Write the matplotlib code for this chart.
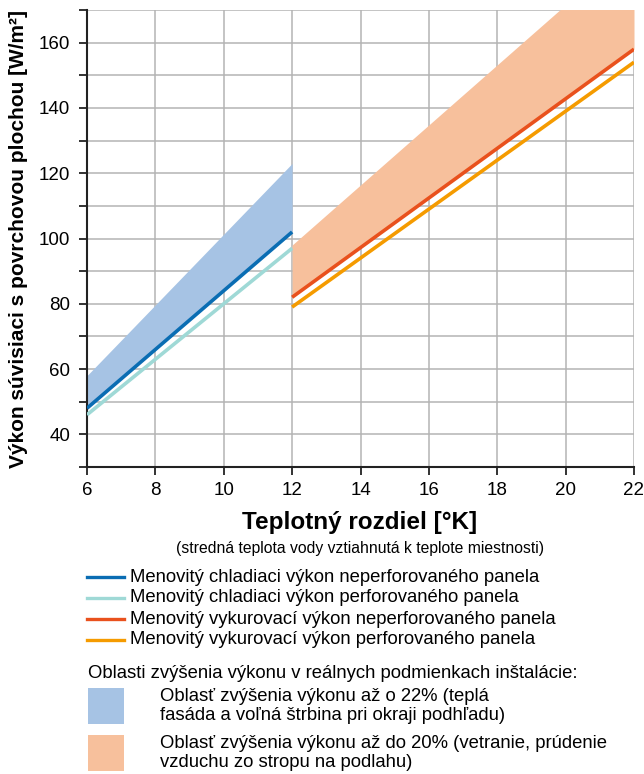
import matplotlib.pyplot as plt
from matplotlib.patches import Rectangle
from matplotlib.lines import Line2D

plt.rcParams['font.family'] = ['Liberation Sans', 'DejaVu Sans']

# data
x_cool = [6, 12]
cool_nonperf = [48, 102]
cool_perf = [46, 97]
cool_upper = [58, 123]

x_heat = [12, 22]
heat_nonperf = [82, 158]
heat_perf = [79, 154]
heat_upper = [98, 190]

legend_lines = [
    ("Menovitý chladiaci výkon neperforovaného panela", "#0a6db3"),
    ("Menovitý chladiaci výkon perforovaného panela", "#9fd9d6"),
    ("Menovitý vykurovací výkon neperforovaného panela", "#e9511d"),
    ("Menovitý vykurovací výkon perforovaného panela", "#f59b00"),
]
area_texts = [
    ("Oblasť zvýšenia výkonu až o 22% (teplá\nfasáda a voľná štrbina pri okraji podhľadu)", "#a6c3e4"),
    ("Oblasť zvýšenia výkonu až do 20% (vetranie, prúdenie\nvzduchu zo stropu na podlahu)", "#f7c09c"),
]

W, H = 644, 774
fig = plt.figure(figsize=(W / 100, H / 100), dpi=100)
ax = fig.add_axes([87 / W, 1 - 467 / H, (634 - 87) / W, (467 - 10) / H])

ax.fill_between(x_cool, cool_nonperf, cool_upper, color=area_texts[0][1], lw=0, zorder=2)
ax.fill_between(x_heat, heat_nonperf, heat_upper, color=area_texts[1][1], lw=0, zorder=2)
ax.plot(x_cool, cool_perf, color=legend_lines[1][1], lw=2.6, zorder=3, solid_capstyle='butt')
ax.plot(x_cool, cool_nonperf, color=legend_lines[0][1], lw=2.6, zorder=3, solid_capstyle='butt')
ax.plot(x_heat, heat_perf, color=legend_lines[3][1], lw=2.6, zorder=3, solid_capstyle='butt')
ax.plot(x_heat, heat_nonperf, color=legend_lines[2][1], lw=2.6, zorder=3, solid_capstyle='butt')

ax.set_xlim(6, 22)
ax.set_ylim(30, 170)
ax.set_xticks(range(6, 23, 2))
ax.set_yticks(range(30, 171, 10))
ax.set_yticklabels([str(v) if v % 20 == 0 else "" for v in range(30, 171, 10)])
ax.grid(True, color="#b4b4b4", lw=1.1, zorder=0)
ax.set_axisbelow(True)
for s in ["top", "right"]:
    ax.spines[s].set_visible(False)
for s in ["left", "bottom"]:
    ax.spines[s].set_color("#222222")
    ax.spines[s].set_linewidth(1.5)
ax.tick_params(axis="both", direction="out", length=6, width=1.3, color="#222222",
               labelsize=13.5, pad=5)
ax.tick_params(axis="y", pad=6)

ax.set_ylabel("Výkon súvisiaci s povrchovou plochou [W/m²]", fontsize=15, fontweight="bold",
              labelpad=8)

fig.text(360 / W, 1 - 522 / H, "Teplotný rozdiel [°K]", ha="center", va="center",
         fontsize=17.5, fontweight="bold")
fig.text(360 / W, 1 - 548 / H, "(stredná teplota vody vztiahnutá k teplote miestnosti)",
         ha="center", va="center", fontsize=11.3)

ys = [577, 598, 619, 640]
for (label, col), y in zip(legend_lines, ys):
    fig.add_artist(Line2D([87 / W, 124 / W], [1 - y / H, 1 - y / H], color=col, lw=2.4))
    fig.text(130 / W, 1 - y / H, label, ha="left", va="center", fontsize=13.3)

fig.text(88 / W, 1 - 674 / H, "Oblasti zvýšenia výkonu v reálnych podmienkach inštalácie:",
         ha="left", va="center", fontsize=13.3)

for (label, col), ytop in zip(area_texts, [688, 735]):
    fig.add_artist(Rectangle((88 / W, 1 - (ytop + 36) / H), 36 / W, 36 / H,
                             color=col, lw=0, transform=fig.transFigure))
    fig.text(160 / W, 1 - (ytop + 18) / H, label, ha="left", va="center",
             fontsize=13.3, linespacing=1.2)

fig.savefig("out.png", dpi=100)
